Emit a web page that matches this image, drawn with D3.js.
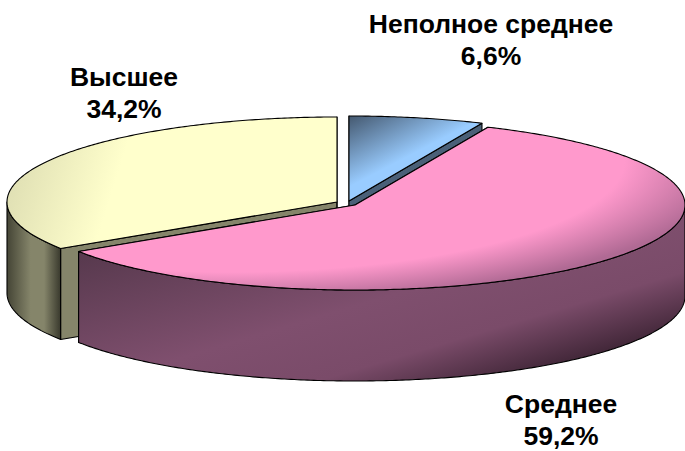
<!DOCTYPE html>
<html>
<head>
<meta charset="utf-8">
<script src="https://cdn.jsdelivr.net/npm/d3@7"></script>
<style>
  html, body { margin: 0; padding: 0; background: #fff; }
  svg { display: block; }
  text { font-family: "Liberation Sans", Arial, sans-serif; font-weight: bold; font-size: 26.5px; fill: #000; text-anchor: middle; }
  path { stroke: #000; stroke-width: 1.1px; stroke-linejoin: round; }
</style>
</head>
<body>
<div id="chart"></div>
<script>
const categories = ['Неполное среднее', 'Среднее', 'Высшее'];
const shares = [6.6, 59.2, 34.2];

class Pie3D {
  constructor(opts){
    this.element = opts.element;
    this.width = 685;
    this.height = 451;
    this.rx = 330;
    this.ry = 85;
    this.depth = 91;
    // exploded centre of each slice and its label position
    this.layout = [
      {cx: 349, cy: 201, lx: 491, ly: 32.5, top: 'blueTop', cut: '#4a6078', wall: '#4a6078'},
      {cx: 355, cy: 205, lx: 561, ly: 413, top: 'pinkTop', cut: '#7f4f6e', wall: 'url(#pinkSide)'},
      {cx: 337, cy: 202, lx: 124, ly: 85.5, top: 'yellowTop', cut: '#85856a', wall: 'url(#yellowSide)'}
    ];
    this.draw();
  }

  draw(){
    this.svg = d3.select(this.element).append('svg')
      .attr('width', this.width)
      .attr('height', this.height);

    this.addGradients();

    this.slices = d3.pie().sort(null).value(d => d)(shares);

    // back to front: blue, yellow, pink
    [0, 2, 1].forEach(i => this.addSlice(i));
    this.addLabels();
  }

  addGradients(){
    const defs = this.svg.append('defs');
    const addStops = (g, stops) => {
      stops.forEach(s => g.append('stop').attr('offset', s[0]).attr('stop-color', s[1]));
    };
    const grad = (id, x1, y1, x2, y2, stops) => {
      const g = defs.append('linearGradient')
        .attr('id', id)
        .attr('gradientUnits', 'userSpaceOnUse')
        .attr('x1', x1).attr('y1', y1).attr('x2', x2).attr('y2', y2);
      addStops(g, stops);
    };
    grad('blueTop', 349, 116, 378, 172, [[0, '#44586f'], [1, '#99ccff']]);
    grad('pinkSide', 80, 260, 150, 495, [[0, '#593a4f'], [0.5, '#7f4f6e'], [0.75, '#7a4b69'], [1, '#3a2232']]);
    grad('yellowTop', 10, 185, 105, 215, [[0, '#e0e0b4'], [1, '#ffffcc']]);
    grad('yellowSide', 9, 0, 63, 0, [[0, '#4a4a3a'], [0.4, '#85856a'], [0.65, '#85856a'], [1, '#2e2e24']]);

    // pink top darkens along the front right rim
    const pink = defs.append('radialGradient')
      .attr('id', 'pinkTop')
      .attr('gradientUnits', 'userSpaceOnUse')
      .attr('cx', 0).attr('cy', 0).attr('r', 1.15)
      .attr('gradientTransform', 'translate(230,160) scale(440,125)');
    addStops(pink, [[0, '#ff99cc'], [0.78, '#ff99cc'], [1, '#b06a94']]);
  }

  // point on the tilted rim, angle measured clockwise from 12 o'clock
  rim(l, a, dy = 0){
    return [l.cx + this.rx * Math.sin(a), l.cy - this.ry * Math.cos(a) + dy];
  }

  rimPoints(l, a0, a1, dy = 0){
    const n = Math.max(2, Math.ceil((a1 - a0) / 0.01));
    return d3.range(n + 1).map(i => this.rim(l, a0 + (a1 - a0) * i / n, dy));
  }

  addSlice(i){
    const l = this.layout[i];
    const s = this.slices[i];
    const line = d3.line();
    const g = this.svg.append('g').attr('class', 'slice');

    // cut faces
    [s.startAngle, s.endAngle].forEach(a => {
      const p = this.rim(l, a);
      const q = this.rim(l, a, this.depth);
      g.append('path')
        .attr('d', line([[l.cx, l.cy], p, q, [l.cx, l.cy + this.depth]]) + 'Z')
        .style('fill', l.cut);
    });

    // outer wall, front half only
    const a0 = Math.max(s.startAngle, Math.PI / 2);
    const a1 = Math.min(s.endAngle, 3 * Math.PI / 2);
    if (a1 > a0) {
      const upper = this.rimPoints(l, a0, a1);
      const lower = this.rimPoints(l, a0, a1, this.depth).reverse();
      g.append('path')
        .attr('d', line(upper.concat(lower)) + 'Z')
        .style('fill', l.wall);
    }

    // top face
    const top = [[l.cx, l.cy]].concat(this.rimPoints(l, s.startAngle, s.endAngle));
    g.append('path')
      .attr('d', line(top) + 'Z')
      .style('fill', `url(#${l.top})`);
  }

  addLabels(){
    const g = this.svg.selectAll('.label')
      .data(categories)
      .enter().append('g')
      .attr('class', 'label')
      .attr('transform', (d, i) => `translate(${this.layout[i].lx},${this.layout[i].ly})`);

    g.append('text').text(d => d);
    g.append('text')
      .attr('y', 32)
      .text((d, i) => String(shares[i]).replace('.', ',') + '%');
  }
}

new Pie3D({element: document.getElementById('chart')});
</script>
</body>
</html>
